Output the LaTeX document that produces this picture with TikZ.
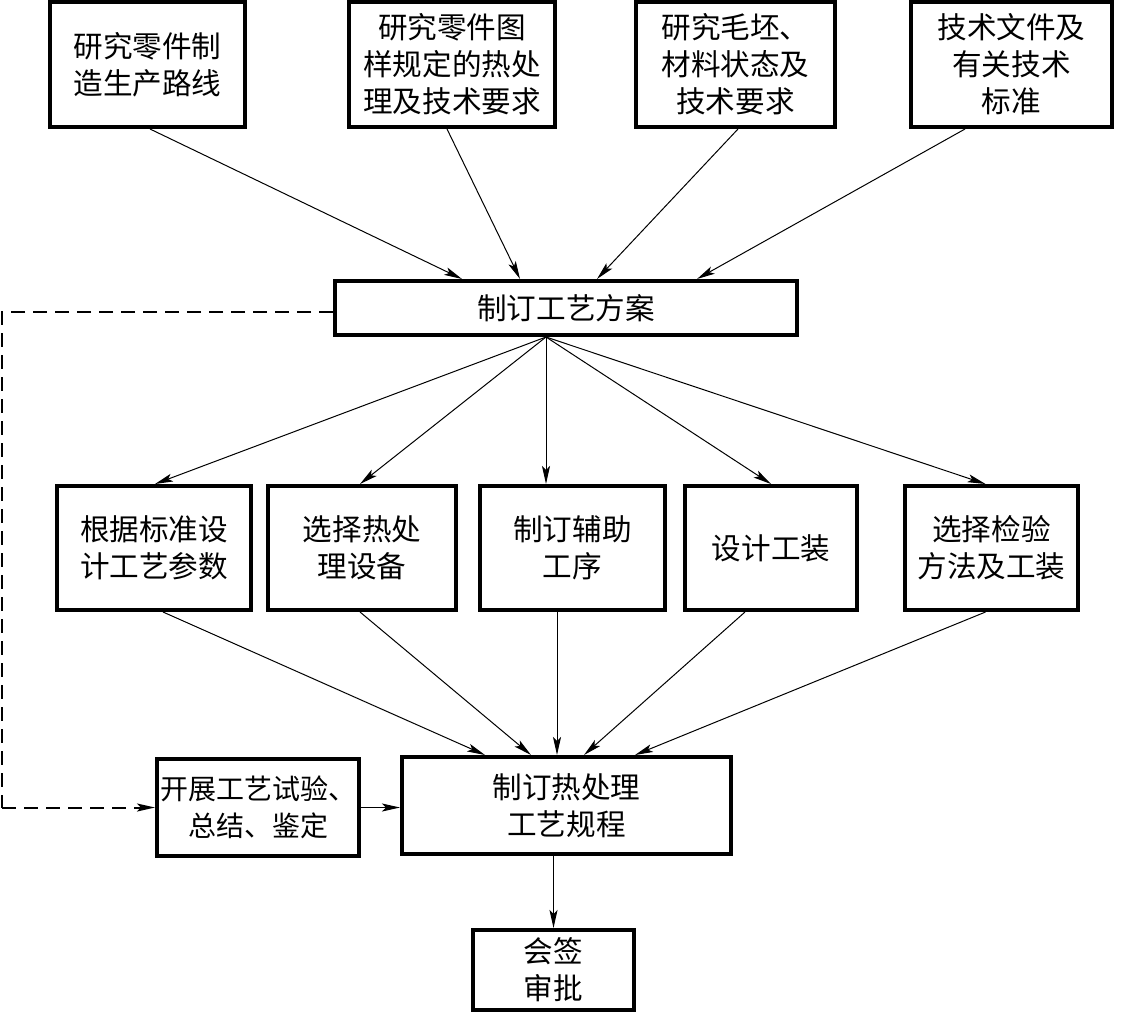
\documentclass[tikz,border=0pt]{standalone}
\usepackage{fontspec}
\setmainfont{Noto Sans CJK SC}
\usetikzlibrary{arrows.meta}
\begin{document}
\begin{tikzpicture}[x=0.5pt,y=-0.5pt,
  box/.style={draw, line width=2pt, align=center, inner sep=0pt,
    font=\fontsize{14.8}{18.5}\selectfont},
  arr/.style={-{Stealth[length=9pt,width=4pt,inset=2pt]}, line width=0.5pt},
  dsh/.style={line width=1pt, dash pattern=on 7pt off 4pt}]
\useasboundingbox (0,0) rectangle (1122,1012);
% top row
\node[box, minimum width=97.5pt, minimum height=62.5pt] (t1) at (147.5,64.5) {研究零件制\\造生产路线};
\node[box, minimum width=103pt, minimum height=62.5pt] (t2) at (452,64.5) {研究零件图\\样规定的热处\\理及技术要求};
\node[box, minimum width=99.5pt, minimum height=62.5pt] (t3) at (735.5,64.5) {研究毛坯、\\材料状态及\\技术要求};
\node[box, minimum width=100.5pt, minimum height=62.5pt] (t4) at (1011.5,64.5) {技术文件及\\有关技术\\标准};
% plan
\node[box, minimum width=231pt, minimum height=27pt] (fa) at (566,308) {制订工艺方案};
% middle row
\node[box, minimum width=97pt, minimum height=62pt] (r1) at (154,548) {根据标准设\\计工艺参数};
\node[box, minimum width=94pt, minimum height=62pt] (r2) at (362,548) {选择热处\\理设备};
\node[box, minimum width=92.5pt, minimum height=62pt] (r3) at (572.5,548) {制订辅助\\工序};
\node[box, minimum width=86pt, minimum height=62pt] (r4) at (771,548) {设计工装};
\node[box, minimum width=86.5pt, minimum height=62pt] (r5) at (991.5,548) {选择检验\\方法及工装};
% bottom
\node[box, minimum width=101pt, minimum height=48.5pt, font=\fontsize{14}{18.5}\selectfont] (sy) at (258,807.5) {开展工艺试验、\\总结、鉴定};
\node[box, minimum width=164.5pt, minimum height=48.5pt] (gc) at (566.5,805.5) {制订热处理\\工艺规程};
\node[box, minimum width=80.5pt, minimum height=40pt] (hq) at (553.5,970) {会签\\审批};
% arrows top -> plan
\draw[arr] ([xshift=1.25pt]t1.south) -- ([xshift=-52pt]fa.north);
\draw[arr] ([xshift=-2.5pt]t2.south) -- ([xshift=-23pt]fa.north);
\draw[arr] ([xshift=1.25pt]t3.south) -- ([xshift=15.5pt]fa.north);
\draw[arr] ([xshift=-23.25pt]t4.south) -- ([xshift=65.5pt]fa.north);
% plan -> row
\coordinate (fo) at ([xshift=-10pt]fa.south);
\draw[arr] (fo) -- ([xshift=0.5pt]r1.north);
\draw[arr] (fo) -- ([xshift=-1pt]r2.north);
\draw[arr] (fo) -- ([xshift=-13.25pt]r3.north);
\draw[arr] (fo) -- ([xshift=0pt]r4.north);
\draw[arr] (fo) -- ([xshift=-3pt]r5.north);
% row -> gc
\draw[arr] ([xshift=4.5pt]r1.south) -- ([xshift=-40.75pt]gc.north);
\draw[arr] ([xshift=-1pt]r2.south) -- ([xshift=-17.75pt]gc.north);
\draw[arr] ([xshift=-7.75pt]r3.south) -- ([xshift=-4.75pt]gc.north);
\draw[arr] ([xshift=-13pt]r4.south) -- ([xshift=8.75pt]gc.north);
\draw[arr] ([xshift=-3pt]r5.south) -- ([xshift=34.25pt]gc.north);
% others
\draw[arr] (sy.east) -- (gc.west |- sy.east);
\draw[arr] ([xshift=-6.5pt]gc.south) -- (hq.north);
\coordinate (dl) at (2,312);
\draw[dsh] (fa.west |- dl) -- (dl) -- (dl |- sy.west);
\draw[dsh, arr, line width=1pt, dash pattern=on 7pt off 4pt] (dl |- sy.west) -- (sy.west);
\end{tikzpicture}
\end{document}
